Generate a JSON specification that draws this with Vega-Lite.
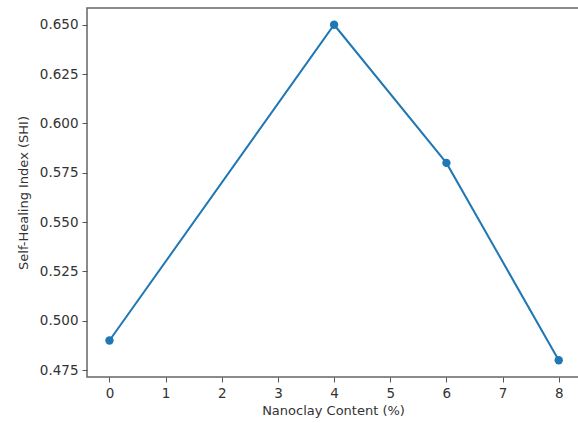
{
  "$schema": "https://vega.github.io/schema/vega-lite/v6.json",
  "autosize": "none",
  "width": 492,
  "height": 369,
  "padding": {"left": 87, "top": 8, "right": 0, "bottom": 46},
  "background": "white",
  "config": {
    "view": {"stroke": "#666666", "strokeWidth": 1.5},
    "axis": {
      "labelFont": "DejaVu Sans",
      "titleFont": "DejaVu Sans",
      "labelFontSize": 13.5,
      "titleFontSize": 13,
      "titleFontWeight": "normal",
      "labelColor": "#333333",
      "titleColor": "#333333",
      "tickColor": "#555555",
      "tickSize": 5,
      "domain": false,
      "grid": false
    }
  },
  "data": {
    "values": [
      {"nanoclay": 0, "shi": 0.49},
      {"nanoclay": 4, "shi": 0.65},
      {"nanoclay": 6, "shi": 0.58},
      {"nanoclay": 8, "shi": 0.48}
    ]
  },
  "encoding": {
    "x": {
      "field": "nanoclay",
      "type": "quantitative",
      "scale": {"domain": [-0.4, 8.361], "nice": false, "zero": false},
      "axis": {
        "title": "Nanoclay Content (%)",
        "values": [0, 1, 2, 3, 4, 5, 6, 7, 8],
        "format": "d",
        "labelPadding": 4,
        "titlePadding": 5
      }
    },
    "y": {
      "field": "shi",
      "type": "quantitative",
      "scale": {"domain": [0.4715, 0.6585], "nice": false, "zero": false},
      "axis": {
        "title": "Self-Healing Index (SHI)",
        "values": [0.475, 0.5, 0.525, 0.55, 0.575, 0.6, 0.625, 0.65],
        "format": ".3f",
        "labelPadding": 4,
        "titlePadding": 9
      }
    }
  },
  "layer": [
    {"mark": {"type": "line", "color": "#1f77b4", "strokeWidth": 2}},
    {"mark": {"type": "point", "filled": true, "opacity": 1, "color": "#1f77b4", "size": 70}}
  ]
}
